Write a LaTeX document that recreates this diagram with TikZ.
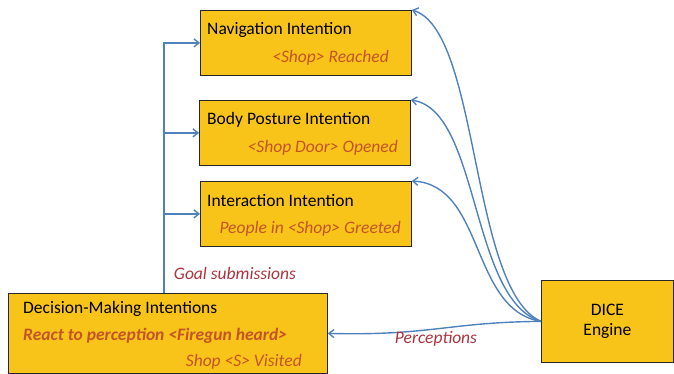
\documentclass[tikz,border=0pt]{standalone}
\usepackage{fontspec}
\setmainfont{Carlito}
\usepackage{tikz}
\usetikzlibrary{arrows.meta}
\definecolor{boxgold}{RGB}{249,196,26}
\definecolor{linkblue}{RGB}{79,129,189}
\definecolor{subred}{RGB}{196,84,38}
\definecolor{labelred}{RGB}{170,52,62}

\begin{document}
\begin{tikzpicture}[x=1pt,y=-1pt,
  box/.style={draw=black!85,line width=0.8pt,fill=boxgold,rectangle,anchor=north west,inner sep=0pt},
  head/.style={font=\fontsize{17.5}{20}\selectfont,inner sep=0pt},
  sub/.style={font=\fontsize{17.5}{20}\selectfont\itshape,text=subred,inner sep=0pt},
  lbl/.style={font=\fontsize{17.5}{20}\selectfont\itshape,text=labelred,inner sep=0pt},
  link/.style={draw=linkblue,line width=1.4pt,-{Straight Barb[length=5pt,width=8pt]}}]
\useasboundingbox (0,0) rectangle (674,374);

% intention boxes
\node[box,minimum width=211,minimum height=65] (nav) at (200,10) {};
\node[head,anchor=base west] at (207,35) {Navigation Intention};
\node[sub,anchor=base east] at (389,63) {<Shop> Reached};

\node[box,minimum width=211,minimum height=65] (body) at (199,100) {};
\node[head,anchor=base west] at (207,125) {Body Posture Intention};
\node[sub,anchor=base east] at (398,153) {<Shop Door> Opened};

\node[box,minimum width=211,minimum height=65] (inter) at (200,181) {};
\node[head,anchor=base west] at (207,206) {Interaction Intention};
\node[sub,anchor=base east] at (401,233) {People in <Shop> Greeted};

\node[box,minimum width=319,minimum height=80] (dec) at (8,293) {};
\node[head,anchor=base west] at (23,313) {Decision-Making Intentions};
\node[sub,anchor=base west,font=\fontsize{17.5}{20}\selectfont\bfseries\itshape] at (23,340) {React to perception <Firegun heard>};
\node[sub,anchor=base east] at (302,366) {Shop <S> Visited};

\node[box,minimum width=132,minimum height=82,align=center,font=\fontsize{17.5}{20}\selectfont] (dice) at (541,280) {DICE\\Engine};

% goal submissions
\draw[link] ([xshift=-4pt]dec.north) |- (nav.west);
\draw[link] ([xshift=-4pt]dec.north) |- (body.west);
\draw[link] ([xshift=-4pt]dec.north) |- (inter.west);
\node[lbl] (goal) at (235,273) {Goal submissions};

% perceptions
\draw[link] (dice.west) .. controls (470,290) and (480,30) .. (nav.north east);
\draw[link] (dice.west) .. controls (470,300) and (480,110) .. (body.north east);
\draw[link] (dice.west) .. controls (470,310) and (485,185) .. (inter.north east);
\draw[link] (dice.west) .. controls (450,322) and (430,336) .. (dec.east);
\node[lbl] (perc) at (436,339) {Perceptions};
\end{tikzpicture}
\end{document}
